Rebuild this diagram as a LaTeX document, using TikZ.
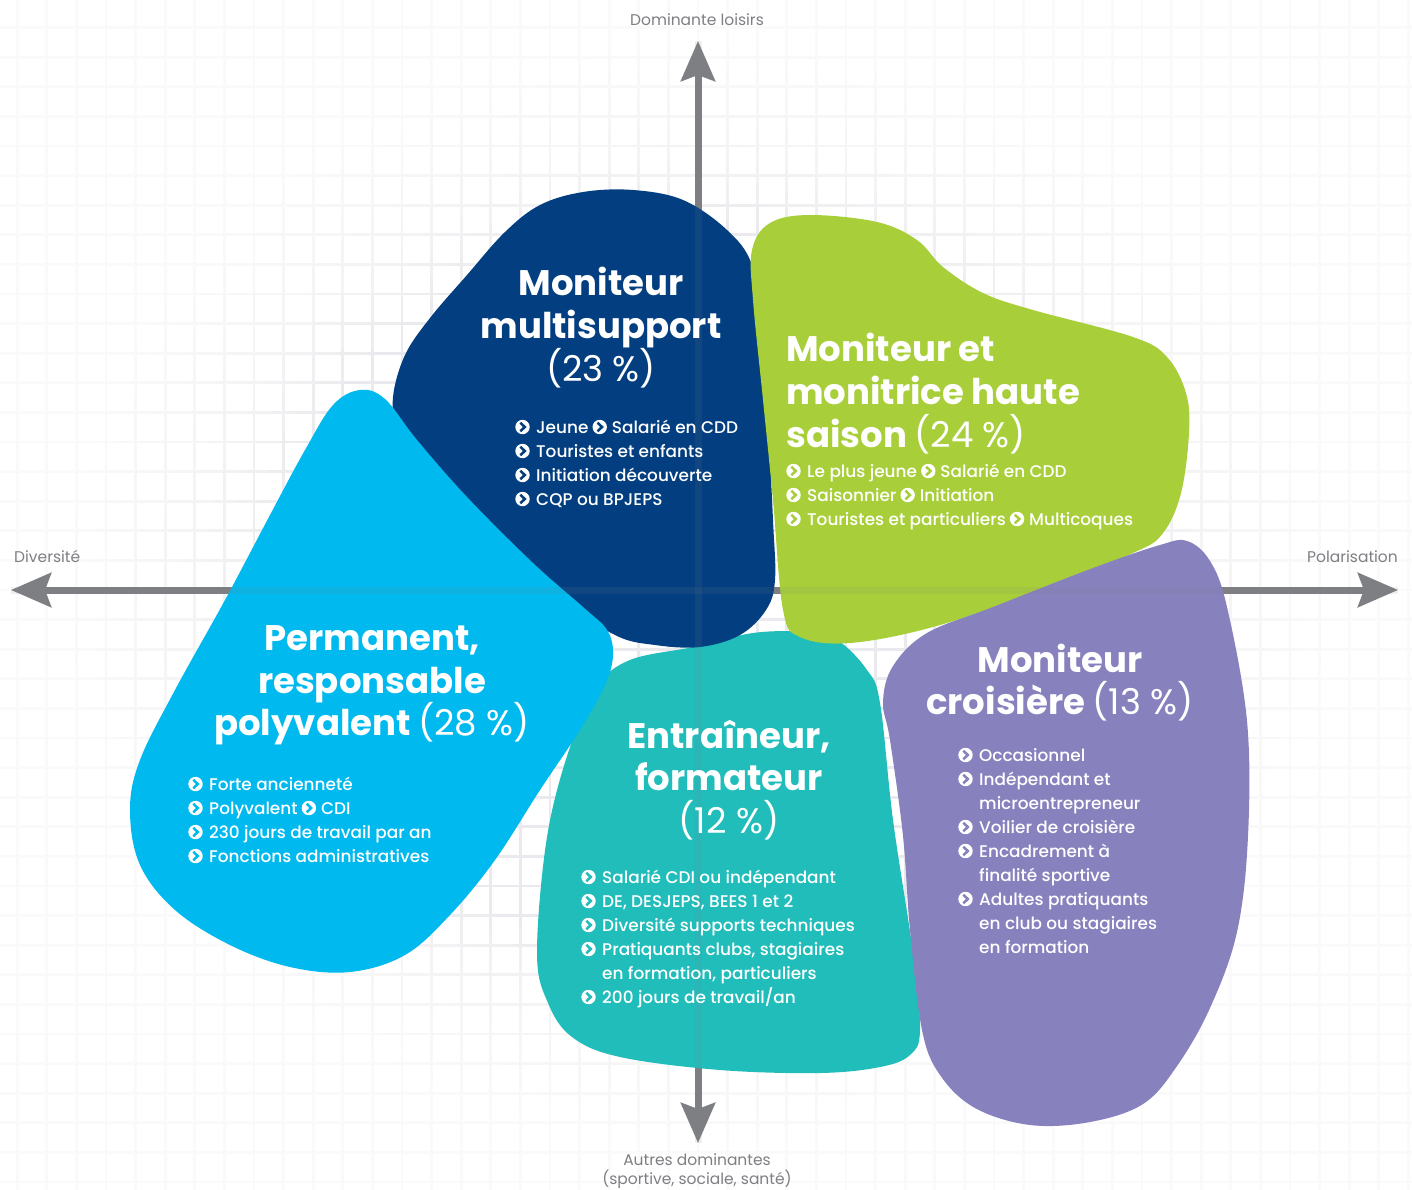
\documentclass[tikz,border=0pt]{standalone}
\usepackage{fontspec}
\setmainfont{Poppins}
\newfontfamily\medfont{Poppins Medium}
\usetikzlibrary{arrows.meta,calc}

\definecolor{dbc}{RGB}{3,63,128}
\definecolor{grc}{RGB}{168,207,58}
\definecolor{cyc}{RGB}{0,185,238}
\definecolor{tec}{RGB}{33,189,187}
\definecolor{puc}{RGB}{135,129,189}
\definecolor{axc}{RGB}{126,127,131}
\definecolor{gridc}{RGB}{234,234,238}

\tikzset{
  gridline/.style={draw=gridc, line width=2.8pt},
  fadering/.style={fill=white, opacity=0.17, even odd rule},
  axisline/.style={draw=axc, line width=7pt,
    {Stealth[length=40pt,width=34pt,inset=6pt]}-{Stealth[length=40pt,width=34pt,inset=6pt]}},
  axisfaint/.style={draw=axc, line width=7pt, opacity=0.12},
  axlabel/.style={inner sep=0pt, anchor=base, text=axc, font=\fontsize{15.5}{19}\selectfont},
  ttl/.style={inner sep=0pt, anchor=base, text=white, font=\fontsize{35.5}{43}\selectfont\bfseries},
  ttlw/.style={ttl, anchor=base west},
  bul/.style={inner sep=0pt, anchor=base west, text=white, font=\medfont\fontsize{16.9}{24}\selectfont},
  bullet/.pic={\fill[white] (0,0) circle[radius=7.2];
    \draw[#1, line width=2.5pt, line join=miter] (-2.2,-4.3) -- (2.3,0) -- (-2.2,4.3);}
}

\newcommand{\bitem}[5]{%
  \pic at (#3+7.5,#4-6) {bullet=#1};
  \node[bul] (#2) at (#3+21,#4) {#5};}
\newcommand{\bnext}[4]{%
  \pic at ($(#2.base east)+(11,-6)$) {bullet=#1};
  \node[bul] (#3) at ($(#2.base east)+(23,0)$) {#4};}
\newcommand{\bcont}[4]{%
  \node[bul] (#1) at (#2+21,#3) {#4};}

\begin{document}
\begin{tikzpicture}[x=1pt,y=-1pt]
\useasboundingbox (0,0) rectangle (1412,1190);
\fill[white] (0,0) rectangle (1412,1190);

% grid with fading towards the edges
\begin{scope}
  \clip (0,0) rectangle (1412,1190);
  \foreach \i in {-25,...,25} \draw[gridline] (698+29.6*\i,-10) -- (698+29.6*\i,1200);
  \foreach \j in {-21,...,21} \draw[gridline] (-10,590+29.6*\j) -- (1422,590+29.6*\j);
  \foreach \k in {0,...,15}
    \fill[fadering] (-20,-20) rectangle (1432,1210)
      (698,590) ellipse [x radius=430+22*\k, y radius=370+19*\k];
\end{scope}

% axes
\coordinate (axL) at (11,590);
\coordinate (axR) at (1398,590);
\coordinate (axT) at (698,41);
\coordinate (axB) at (698,1143);
\draw[axisline] (axL) -- (axR);
\draw[axisline] (axT) -- (axB);

\node[axlabel] (lblT) at (697,26) {Dominante loisirs};
\node[axlabel, anchor=base west] (lblL) at (14,562) {Diversité};
\node[axlabel, anchor=base east] (lblR) at (1398,562) {Polarisation};
\node[axlabel] (lblB1) at (697,1165) {Autres dominantes};
\node[axlabel] (lblB2) at (697,1184) {(sportive, sociale, santé)};

% blobs
\fill[tec] plot[smooth cycle, tension=0.6] coordinates {
 (693,647) (753,633) (803,632) (837,640) (867,670) (880,703) (893,820) (913,953)
 (920,1030) (910,1055) (880,1067) (820,1073) (720,1070) (620,1057) (572,1037)
 (548,1003) (537,953) (547,837) (570,747) (597,687) (630,660)};
\fill[dbc] plot[smooth cycle, tension=0.6] coordinates {
 (583,192) (633,190) (683,200) (727,230) (752,265) (763,330) (768,420) (773,520)
 (775,580) (766,610) (740,635) (700,647) (655,645) (615,635) (560,597) (480,522)
 (420,463) (398,428) (393,397) (405,355) (430,318) (467,275) (505,232) (540,205)};
\fill[grc] plot[smooth cycle, tension=0.6] coordinates {
 (810,215) (877,222) (917,240) (943,267) (983,293) (1033,310) (1133,337) (1167,357)
 (1186,393) (1189,433) (1181,493) (1163,533) (1133,553) (1033,593) (933,627)
 (850,643) (800,637) (783,610) (773,500) (763,400) (753,300) (752,250) (770,223)};
\fill[puc] plot[smooth cycle, tension=0.6] coordinates {
 (1187,541) (1210,561) (1227,607) (1247,721) (1248,836) (1237,932) (1210,1008)
 (1177,1066) (1143,1104) (1090,1122) (1030,1125) (975,1108) (940,1075) (922,1030)
 (910,930) (903,836) (890,740) (883,702) (893,666) (927,633) (993,607) (1093,568)
 (1160,545)};
\fill[cyc] plot[smooth cycle, tension=0.6] coordinates {
 (360,390) (385,399) (417,440) (467,497) (533,563) (583,607) (607,630) (613,655)
 (605,685) (580,730) (540,790) (495,860) (450,915) (405,955) (350,972) (290,967)
 (230,945) (175,910) (140,865) (130,810) (140,760) (175,690) (225,600) (270,515)
 (305,450) (333,405)};

% faint axes through blobs
\draw[axisfaint] (axL) -- (axR);
\draw[axisfaint] (axT) -- (axB);

% Moniteur multisupport
\node[ttl] (dbT1) at (601,295) {Moniteur};
\node[ttl] (dbT2) at (601,338) {multisupport};
\node[ttl] (dbT3) at (601,381) {\mdseries (23 \%)};
\bitem{dbc}{db1}{515}{433}{Jeune}
\bnext{dbc}{db1}{db1b}{Salarié en CDD}
\bitem{dbc}{db2}{515}{457}{Touristes et enfants}
\bitem{dbc}{db3}{515}{481}{Initiation découverte}
\bitem{dbc}{db4}{515}{505}{CQP ou BPJEPS}

% Moniteur haute saison
\node[ttlw] (grT1) at (786,361) {Moniteur et};
\node[ttlw] (grT2) at (786,404) {monitrice haute};
\node[ttlw] (grT3) at (786,447) {saison {\mdseries (24 \%)}};
\bitem{grc}{gr1}{786}{477}{Le plus jeune}
\bnext{grc}{gr1}{gr1b}{Salarié en CDD}
\bitem{grc}{gr2}{786}{501}{Saisonnier}
\bnext{grc}{gr2}{gr2b}{Initiation}
\bitem{grc}{gr3}{786}{525}{Touristes et particuliers}
\bnext{grc}{gr3}{gr3b}{Multicoques}

% Permanent
\node[ttl] (cyT1) at (372,650) {Permanent,};
\node[ttl] (cyT2) at (372,693) {responsable};
\node[ttl] (cyT3) at (372,735) {polyvalent {\mdseries (28 \%)}};
\bitem{cyc}{cy1}{188}{790}{Forte ancienneté}
\bitem{cyc}{cy2}{188}{814}{Polyvalent}
\bnext{cyc}{cy2}{cy2b}{CDI}
\bitem{cyc}{cy3}{188}{838}{230 jours de travail par an}
\bitem{cyc}{cy4}{188}{862}{Fonctions administratives}

% Entraineur
\node[ttl] (teT1) at (729,748) {Entraîneur,};
\node[ttl] (teT2) at (729,790) {formateur};
\node[ttl] (teT3) at (729,833) {\mdseries (12 \%)};
\bitem{tec}{te1}{581}{883}{Salarié CDI ou indépendant}
\bitem{tec}{te2}{581}{907}{DE, DESJEPS, BEES 1 et 2}
\bitem{tec}{te3}{581}{931}{Diversité supports techniques}
\bitem{tec}{te4}{581}{955}{Pratiquants clubs, stagiaires}
\bcont{te5}{581}{979}{en formation, particuliers}
\bitem{tec}{te6}{581}{1003}{200 jours de travail/an}

% Croisiere
\node[ttl] (puT1) at (1060,672) {Moniteur};
\node[ttl] (puT2) at (1060,714) {croisière {\mdseries (13 \%)}};
\bitem{puc}{pu1}{958}{761}{Occasionnel}
\bitem{puc}{pu2}{958}{785}{Indépendant et}
\bcont{pu3}{958}{809}{microentrepreneur}
\bitem{puc}{pu4}{958}{833}{Voilier de croisière}
\bitem{puc}{pu5}{958}{857}{Encadrement à}
\bcont{pu6}{958}{881}{finalité sportive}
\bitem{puc}{pu7}{958}{905}{Adultes pratiquants}
\bcont{pu8}{958}{929}{en club ou stagiaires}
\bcont{pu9}{958}{953}{en formation}
\end{tikzpicture}
\end{document}
